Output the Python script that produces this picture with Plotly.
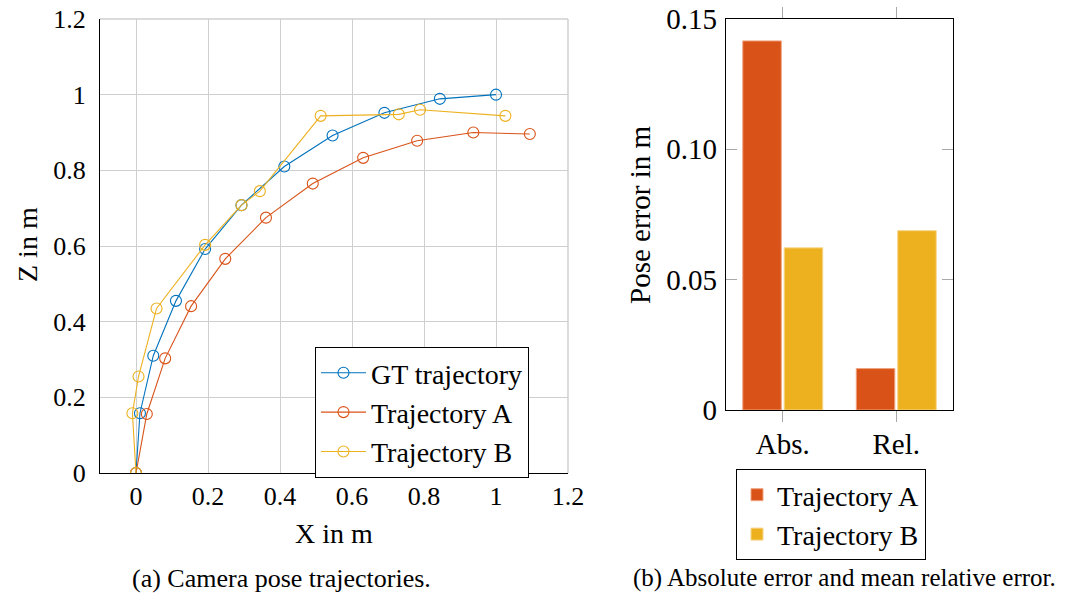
import plotly.graph_objects as go

# ---- trajectory data (X, Z in metres) ----
gt_x = [0.0, 0.011, 0.048, 0.111, 0.192, 0.293, 0.412, 0.546, 0.690, 0.844, 1.000]
gt_z = [0.0, 0.158, 0.310, 0.455, 0.592, 0.708, 0.810, 0.892, 0.952, 0.989, 1.000]

a_x = [0.0, 0.030, 0.081, 0.153, 0.248, 0.361, 0.491, 0.631, 0.781, 0.937, 1.094]
a_z = [0.0, 0.156, 0.303, 0.441, 0.566, 0.675, 0.765, 0.833, 0.878, 0.900, 0.896]

b_x = [0.0, -0.010, 0.007, 0.057, 0.192, 0.293, 0.344, 0.513, 0.730, 0.789, 1.026]
b_z = [0.0, 0.158, 0.255, 0.435, 0.603, 0.708, 0.745, 0.944, 0.948, 0.960, 0.944]

# ---- pose error data ----
err_categories = ["Abs.", "Rel."]
err_a = [0.1416, 0.0159]
err_b = [0.0622, 0.0688]

xy_ticks = [0, 0.2, 0.4, 0.6, 0.8, 1, 1.2]
xy_ticktext = ["0", "0.2", "0.4", "0.6", "0.8", "1", "1.2"]
err_ticks = [0, 0.05, 0.10, 0.15]
err_ticktext = ["0", "0.05", "0.10", "0.15"]

W, H = 1070, 596
FONT = "Liberation Serif"
BLUE, ORANGE, YELLOW = "#0072BD", "#D95319", "#EDB120"


def fx(px):
    return px / W


def fy(py):
    return 1 - py / H


fig = go.Figure()

for name, xs, zs, col in [("GT trajectory", gt_x, gt_z, BLUE),
                          ("Trajectory A", a_x, a_z, ORANGE),
                          ("Trajectory B", b_x, b_z, YELLOW)]:
    fig.add_trace(go.Scatter(
        x=xs, y=zs, name=name, mode="lines+markers",
        line=dict(color=col, width=1.1),
        marker=dict(symbol="circle-open", size=11, color=col, line=dict(width=1.1)),
        xaxis="x", yaxis="y", legend="legend"))

for name, vals, col, edge in [("Trajectory A", err_a, ORANGE, "#f0a47f"),
                              ("Trajectory B", err_b, YELLOW, "#f6d68a")]:
    fig.add_trace(go.Bar(
        x=err_categories, y=vals, name=name,
        marker=dict(color=col, line=dict(color=edge, width=1)),
        xaxis="x2", yaxis="y2", legend="legend2"))

grid = "#cfcfcf"

fig.update_layout(
    width=W, height=H,
    margin=dict(l=0, r=0, t=0, b=0),
    paper_bgcolor="white", plot_bgcolor="white",
    font=dict(family=FONT, color="black"),
    showlegend=True,
    barmode="group", bargap=0.27, bargroupgap=0.07,
    xaxis=dict(
        domain=[fx(100), fx(568)], range=[-0.1, 1.2],
        tickvals=xy_ticks, ticktext=xy_ticktext,
        showgrid=True, gridcolor=grid, gridwidth=1, zeroline=False,
        showline=True, linecolor="black", linewidth=1.2,
        ticks="", tickfont=dict(size=26), ticklabelstandoff=0,
        automargin=False, anchor="y"),
    yaxis=dict(
        domain=[fy(473), fy(19)], range=[0, 1.2],
        tickvals=xy_ticks, ticktext=xy_ticktext,
        showgrid=True, gridcolor=grid, gridwidth=1, zeroline=False,
        showline=True, linecolor="black", linewidth=1.2,
        ticks="", tickfont=dict(size=26), ticklabelstandoff=8,
        automargin=False, anchor="x"),
    xaxis2=dict(
        domain=[fx(726), fx(953)], range=[-0.5, 1.5],
        type="category",
        showgrid=False, zeroline=False,
        showline=True, linecolor="black", linewidth=1.2, mirror="ticks",
        ticks="outside", ticklen=11, tickcolor="#a8a8a8", tickwidth=1,
        tickfont=dict(size=29), ticklabelstandoff=-3,
        automargin=False, anchor="y2"),
    yaxis2=dict(
        domain=[fy(410), fy(19)], range=[0, 0.15],
        tickvals=err_ticks, ticktext=err_ticktext,
        showgrid=False, zeroline=False,
        showline=True, linecolor="black", linewidth=1.2, mirror="ticks",
        ticks="inside", ticklen=11, tickcolor="#a8a8a8", tickwidth=1,
        tickfont=dict(size=29), ticklabelstandoff=2,
        automargin=False, anchor="x2"),
    legend=dict(
        x=fx(315), y=fy(347), xanchor="left", yanchor="top",
        bgcolor="white", bordercolor="black", borderwidth=1,
        font=dict(size=28), itemwidth=45, tracegroupgap=0),
    legend2=dict(
        x=fx(736), y=fy(469), xanchor="left", yanchor="top",
        bgcolor="white", bordercolor="black", borderwidth=1,
        font=dict(size=28), itemwidth=30, tracegroupgap=0),
)

# Grey frame on the top and right edges of the trajectory plot
fig.add_shape(type="line", xref="x domain", yref="y domain",
              x0=0, x1=1, y0=1, y1=1, line=dict(color=grid, width=1.5))
fig.add_shape(type="line", xref="x domain", yref="y domain",
              x0=1, x1=1, y0=0, y1=1, line=dict(color=grid, width=1.5))

annotations = [
    dict(text="X in m", x=fx(334), y=fy(533), font=dict(size=28)),
    dict(text="Z in m", x=fx(27), y=fy(245), font=dict(size=28), textangle=-90),
    dict(text="Pose error in m", x=fx(640), y=fy(215), font=dict(size=29), textangle=-90),
    dict(text="(a) Camera pose trajectories.", x=fx(281), y=fy(578), font=dict(size=26)),
    dict(text="(b) Absolute error and mean relative error.", x=fx(844), y=fy(578),
         font=dict(size=25)),
]
for a in annotations:
    fig.add_annotation(xref="paper", yref="paper", showarrow=False,
                       xanchor="center", yanchor="middle", **a)

fig.write_html("out.html")
